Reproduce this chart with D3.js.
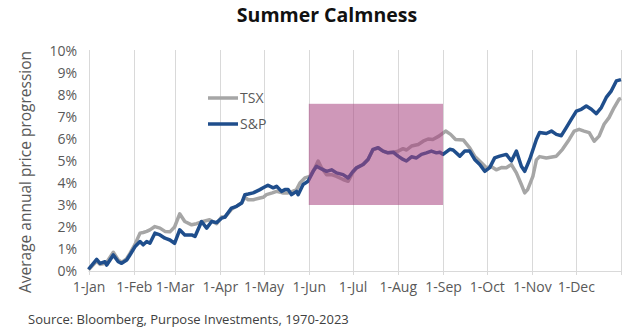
<!DOCTYPE html>
<html><head><meta charset="utf-8">
<script src="https://cdn.jsdelivr.net/npm/d3@7"></script>
<style>body{margin:0;background:#fff}svg{display:block}</style>
</head><body>
<svg id="c" width="636" height="333"></svg>
<script>
// Day-of-year offsets (0 = 1-Jan) and average cumulative returns (%)
const spDays = [0,5.6,7.9,11.3,12.5,17,20.4,22.7,26.2,28.4,31.8,35.3,37.5,39.9,42.1,45.5,49,52.4,55.8,59,62.5,66,70.7,73,77.5,81,84.4,87.8,91.2,93.5,98,101.5,105,107.2,109.5,112.9,117.5,119.7,123,126.6,128.9,132.3,134.6,136.8,139.2,142.6,143.7,147.1,150.5,154,156.3,159.7,163.2,166.6,170,174.5,178,181,183.7,188.2,191.6,195,198.5,201.9,205.3,208.8,212.2,215.6,217.9,221.4,224.8,228.2,231.6,235,238.5,240.8,243,247.6,249.9,254.5,257.9,261.3,264.7,268.2,271.6,275,278.4,281.8,286.4,289.9,293.3,296.7,299,302.4,307,309.2,313.8,317.3,320.7,324.1,327.5,331,334.4,337.8,341.2,344.7,348.1,351.5,354.9,358.4,361.8,365];
const spVals = [0.08,0.53,0.35,0.42,0.27,0.73,0.42,0.35,0.5,0.73,1.1,1.34,1.19,1.34,1.26,1.72,1.64,1.49,1.41,1.26,1.87,1.64,1.64,1.57,2.25,1.95,2.25,2.2,2.4,2.45,2.86,2.94,3.09,3.47,3.5,3.55,3.7,3.78,3.9,3.78,3.85,3.62,3.7,3.7,3.47,3.62,3.47,3.93,4.08,4.53,4.76,4.64,4.53,4.6,4.46,4.38,4.23,4.5,4.69,4.84,5.07,5.53,5.6,5.45,5.37,5.4,5.22,5.07,5.0,5.19,5.14,5.3,5.37,5.45,5.37,5.4,5.3,5.53,5.5,5.22,5.45,5.45,5.07,4.84,4.53,4.7,5.14,5.22,5.3,5.0,5.45,4.76,4.53,5.07,5.98,6.3,6.25,6.36,6.21,6.15,6.52,6.9,7.27,7.35,7.5,7.35,7.15,7.43,7.89,8.19,8.64,8.7];
const tsxDays = [0,5.6,8,12,17,20.4,23,26,28.4,31.8,35.3,37.5,39.9,42.1,45.5,49,52.4,55.8,59,62.5,66,70.7,74,78.4,83,87.8,91.2,93.5,98,101.5,105,107.2,109.5,113,117.5,119.7,122,126,128.9,133,136.8,139.2,142.6,144.9,148.3,151.7,155.2,157.4,159.7,163.2,166.6,170,174.5,178,181,183.7,188.2,191.6,195,198.5,201.9,205.3,208.8,212.2,215.6,218,221.4,226,229.4,232.8,236,240.2,244.8,248.2,251.6,257,261.3,264.7,269.3,272.7,276,279.5,283,286.4,289.9,293.3,296.7,299,301,304.6,307,309.2,313.8,320.7,324.9,329.5,332.9,336.3,339.7,343.2,346.6,350,353.4,356.8,360.3,363.7,365];
const tsxVals = [0.05,0.45,0.3,0.35,0.85,0.5,0.4,0.55,0.8,1.2,1.72,1.75,1.8,1.87,2.02,1.95,1.8,1.78,2.0,2.6,2.25,2.1,2.15,2.25,2.33,2.15,2.45,2.45,2.8,2.95,3.1,3.35,3.24,3.24,3.32,3.35,3.47,3.55,3.62,3.55,3.55,3.6,3.7,4.0,4.23,4.3,4.69,5.0,4.69,4.38,4.38,4.3,4.16,4.08,4.46,4.69,4.84,5.07,5.5,5.6,5.45,5.37,5.4,5.45,5.56,5.5,5.68,5.75,5.9,6.0,5.98,6.13,6.36,6.21,5.98,5.95,5.6,5.22,4.92,4.69,4.75,4.6,4.7,4.69,4.84,4.46,3.93,3.55,3.7,4.3,5.05,5.2,5.14,5.22,5.53,5.98,6.36,6.44,6.36,6.29,5.9,6.13,6.67,6.97,7.43,7.81,7.85];
const yTicks = [0,1,2,3,4,5,6,7,8,9,10];
const monthLabels = ["1-Jan","1-Feb","1-Mar","1-Apr","1-May","1-Jun","1-Jul","1-Aug","1-Sep","1-Oct","1-Nov","1-Dec",""];
const seriesNames = ["TSX","S&P"];
const calmBox = {start:[5,1], end:[8,1], low:3, high:7.6}; // Jun 1 – Sep 1

const font = "'Open Sans', 'Noto Sans', sans-serif";
const svg = d3.select("#c");
const t0 = new Date(2023,0,1);
const dayToDate = d => new Date(t0.getTime() + d*86400000);
const x = d3.scaleTime().domain([t0, new Date(2024,0,1)]).range([88.5, 621]);
const y = d3.scaleLinear().domain([0,10]).range([271, 51]);
const monthDates = d3.range(13).map(m => new Date(2023, m, 1));

// gridlines
svg.append("g").selectAll("line").data(monthDates).join("line")
  .attr("x1", d=>Math.round(x(d))+0.5).attr("x2", d=>Math.round(x(d))+0.5)
  .attr("y1", y(10)-1).attr("y2", y(0)+4)
  .attr("stroke","#d9d9d9").attr("stroke-width",1);
svg.append("line").attr("x1", x.range()[0]).attr("x2", x.range()[1])
  .attr("y1", y(0)+0.5).attr("y2", y(0)+0.5).attr("stroke","#d9d9d9");

// axes
const xAxis = d3.axisBottom(x).tickValues(monthDates).tickSize(0).tickPadding(11)
  .tickFormat((d,i)=>monthLabels[i]);
const gx = svg.append("g").attr("transform",`translate(0,${y(0)})`).call(xAxis);
gx.select(".domain").remove();
gx.selectAll("text").attr("fill","#595959").style("font-family",font).style("font-size","14px");

const yAxis = d3.axisLeft(y).tickValues(yTicks).tickSize(0).tickPadding(0).tickFormat(d=>d+"%");
const gy = svg.append("g").attr("transform",`translate(77,0)`).call(yAxis);
gy.select(".domain").remove();
gy.selectAll("text").attr("fill","#595959").style("font-family",font).style("font-size","14px");

// lines
const line = d3.line().x(d=>x(dayToDate(d[0]))).y(d=>y(d[1])).curve(d3.curveLinear);
const tsx = tsxDays.map((d,i)=>[d, tsxVals[i]]);
const sp = spDays.map((d,i)=>[d, spVals[i]]);
svg.append("path").datum(tsx).attr("d",line).attr("fill","none")
  .attr("stroke","#a6a6a6").attr("stroke-width",3.5).attr("stroke-linejoin","round");
svg.append("path").datum(sp).attr("d",line).attr("fill","none")
  .attr("stroke","#1f4e8c").attr("stroke-width",3.5).attr("stroke-linejoin","round");

// calm period box
const bx0 = x(new Date(2023, calmBox.start[0], calmBox.start[1]));
const bx1 = x(new Date(2023, calmBox.end[0], calmBox.end[1]));
svg.append("rect").attr("x", bx0).attr("y", y(calmBox.high))
  .attr("width", bx1-bx0).attr("height", y(calmBox.low)-y(calmBox.high))
  .attr("fill","#a8437f").attr("opacity",0.55);

// legend
const legColors = ["#a6a6a6","#1f4e8c"];
const lg = svg.append("g");
seriesNames.forEach((n,i)=>{
  const ly = 98 + i*26;
  lg.append("line").attr("x1",208).attr("x2",238).attr("y1",ly).attr("y2",ly)
    .attr("stroke",legColors[i]).attr("stroke-width",3.5);
  lg.append("text").attr("x",240).attr("y",ly+5).text(n)
    .attr("fill","#595959").style("font-family",font).style("font-size","14px");
});

// title, y label, source
svg.append("text").attr("x",327).attr("y",22).attr("text-anchor","middle")
  .text("Summer Calmness").style("font-family",font).style("font-weight","700")
  .style("font-size","19.5px").attr("fill","#111");
svg.append("text").attr("transform","translate(31,172) rotate(-90)").attr("text-anchor","middle")
  .text("Average annual price progression").style("font-family",font)
  .style("font-size","15.5px").attr("fill","#595959");
svg.append("text").attr("x",28).attr("y",324)
  .text("Source: Bloomberg, Purpose Investments, 1970-2023").style("font-family",font)
  .style("font-size","13px").attr("fill","#404040");
</script>
</body></html>
